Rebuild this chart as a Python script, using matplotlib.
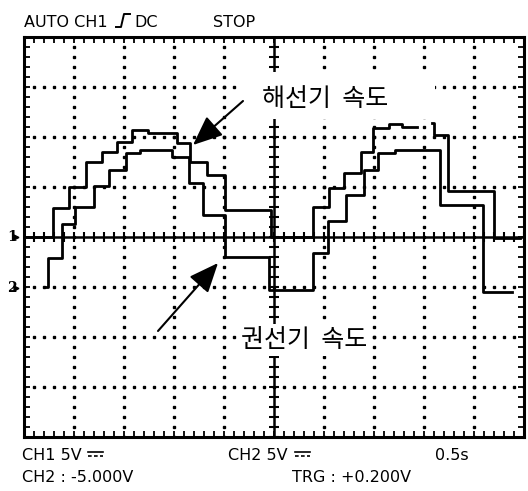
import numpy as np
import matplotlib.pyplot as plt
from matplotlib.patches import Rectangle

# CH1 (해선기 속도): step start times [s] and levels [V]
ch1_t = [0.00, 0.29, 0.45, 0.62, 0.78, 0.93, 1.08, 1.24, 1.53, 1.66, 1.83, 2.01, 2.47,
         2.89, 3.05, 3.20, 3.37, 3.49, 3.65, 3.78, 3.93, 4.08, 4.10, 4.24, 4.70, 4.96]
ch1_v = [0.0, 2.9, 5.0, 7.5, 8.5, 9.5, 10.7, 10.4, 9.4, 7.5, 6.2, 2.7, 0.0,
         3.0, 4.9, 6.4, 8.5, 10.9, 11.3, 11.0, np.nan, 11.4, 10.2, 4.6, -0.1, -0.1]

# CH2 (권선기 속도): levels relative to its own ground
ch2_t = [0.22, 0.24, 0.38, 0.51, 0.70, 0.85, 1.02, 1.16, 1.48, 1.65, 1.79, 2.01,
         2.45, 2.89, 3.04, 3.22, 3.40, 3.54, 3.71, 4.16, 4.59, 4.88]
ch2_v = [0.0, 2.9, 6.3, 8.0, 10.1, 11.7, 13.4, 13.7, 13.0, 10.4, 7.2, 3.0,
         -0.3, 3.4, 6.6, 9.2, 11.7, 13.4, 13.7, 8.2, -0.5, -0.5]
ch2_offset = -5.0

t_div = 0.5    # s / div
v_div = 5.0    # V / div

W, H = 528, 491
fig = plt.figure(figsize=(W / 100, H / 100), dpi=100)
ax = fig.add_axes([24 / W, (H - 437) / H, 500 / W, 400 / H])
ax.set_xlim(0, 10 * t_div)
ax.set_ylim(-4 * v_div, 4 * v_div)

# graticule
fine_x = np.arange(0, 10 * t_div + 1e-9, t_div / 5)
fine_y = np.arange(-4 * v_div, 4 * v_div + 1e-9, v_div / 5)
for gx in np.arange(1, 10) * t_div:
    if abs(gx - 5 * t_div) < 1e-9:
        continue
    ax.plot(np.full_like(fine_y, gx), fine_y, ls='none', marker='s', ms=1.6, color='k')
for gy in np.arange(-3, 4) * v_div:
    if gy == 0:
        continue
    ax.plot(fine_x, np.full_like(fine_x, gy), ls='none', marker='s', ms=1.6, color='k')

ax.axhline(0, color='k', lw=1.8)
ax.axvline(5 * t_div, color='k', lw=1.8)
ax.plot(fine_x, np.zeros_like(fine_x), ls='none', marker='|', ms=7, mew=1.5, color='k')
ax.plot(np.full_like(fine_y, 5 * t_div), fine_y, ls='none', marker='_', ms=7, mew=1.5, color='k')

ax.set_xticks(fine_x)
ax.set_yticks(fine_y)
ax.tick_params(direction='in', length=4, width=1.3, top=True, right=True,
               labelbottom=False, labelleft=False)
for s in ax.spines.values():
    s.set_linewidth(2.2)

# traces
ax.step(ch1_t, ch1_v, where='post', color='k', lw=2.0)
ax.step(ch2_t, np.array(ch2_v) + ch2_offset, where='post', color='k', lw=2.0)

# overlay in pixel coordinates for screen annotations
ov = fig.add_axes([0, 0, 1, 1])
ov.set_xlim(0, W)
ov.set_ylim(H, 0)
ov.axis('off')

mono = ['Liberation Sans Narrow', 'DejaVu Sans']
fs = 11.5
ov.text(24, 27, 'AUTO CH1', fontsize=fs, family=mono, va='baseline')
ov.plot([116, 121, 124, 130], [27, 27, 14, 14], color='k', lw=1.4)
ov.text(134, 27, 'DC', fontsize=fs, family=mono, va='baseline')
ov.text(213, 27, 'STOP', fontsize=fs, family=mono, va='baseline')

ov.text(22, 460, 'CH1 5V', fontsize=fs, family=mono, va='baseline')
ov.text(228, 460, 'CH2 5V', fontsize=fs, family=mono, va='baseline')
ov.text(435, 460, '0.5s', fontsize=fs, family=mono, va='baseline')
ov.text(22, 482, 'CH2 : -5.000V', fontsize=fs, family=mono, va='baseline')
ov.text(292, 482, 'TRG : +0.200V', fontsize=fs, family=mono, va='baseline')
# DC coupling sign (no installed font has it)
for x0 in (88, 295):
    ov.plot([x0, x0 + 15], [452, 452], color='k', lw=1.2)
    ov.plot([x0, x0 + 15], [456, 456], color='k', lw=1.2, dashes=(2.2, 1.4))

ov.text(7, 237, '1', fontsize=10, family='DejaVu Serif', weight='bold', va='center')
ov.text(7, 288, '2', fontsize=10, family='DejaVu Serif', weight='bold', va='center')
ov.plot([16], [237], marker='>', ms=3.5, color='k')
ov.plot([16], [288], marker='>', ms=3.5, color='k')

kr = ['Noto Sans CJK KR', 'DejaVu Sans']
ov.add_patch(Rectangle((237, 72), 198, 47, facecolor='white', edgecolor='none'))
ov.text(262, 99, '해선기  속도', fontsize=18, family=kr, va='center')
ov.text(241, 340, '권선기  속도', fontsize=18, family=kr, va='center',
        bbox=dict(facecolor='white', edgecolor='none', pad=2))

arrow = dict(arrowstyle='-|>,head_length=1.3,head_width=0.55', color='k', lw=1.5,
             mutation_scale=14, shrinkA=0, shrinkB=0)
ov.annotate('', xy=(193, 145), xytext=(243, 101), arrowprops=arrow)
ov.annotate('', xy=(218, 263), xytext=(158, 331), arrowprops=arrow)

fig.savefig('out.png', dpi=100, facecolor='white')
